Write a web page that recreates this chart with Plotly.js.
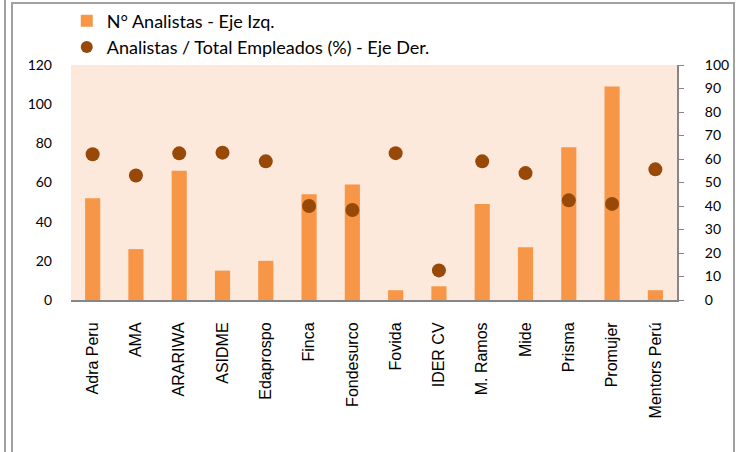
<!DOCTYPE html>
<html>
<head>
<meta charset="utf-8">
<script src="https://cdn.plot.ly/plotly-3.0.1.min.js"></script>
<style>
	body { margin: 0; background: #fff; }
	#marco { position: absolute; left: 4px; top: 0; width: 2px; height: 452px; background: #a0a0a0; }
	#caja { position: absolute; left: 11px; top: 2px; width: 724px; height: 460px; border: 2px solid #a0a0a0; box-sizing: border-box; }
	#grafico { position: absolute; left: 0; top: 0; width: 740px; height: 452px; }
</style>
</head>
<body>
<div id="marco"></div>
<div id="caja"></div>
<div id="grafico"></div>
<script>
// Entidades
const entidades = [
	"Adra Peru", "AMA", "ARARIWA", "ASIDME", "Edaprospo", "Finca", "Fondesurco",
	"Fovida", "IDER CV", "M. Ramos", "Mide", "Prisma", "Promujer", "Mentors Perú",
];
// N° de analistas (eje izquierdo)
const analistas = [52, 26, 66, 15, 20, 54, 59, 5, 7, 49, 27, 78, 109, 5];
// Analistas / total empleados en % (eje derecho)
const ratioEmpleados = [62, 53, 62.4, 62.7, 59, 40, 38.3, 62.5, 12.6, 59, 54, 42.4, 40.9, 55.6];

const ticksIzq = [0, 20, 40, 60, 80, 100, 120];
const ticksDer = [0, 10, 20, 30, 40, 50, 60, 70, 80, 90, 100];

const fuente = "Lato, 'Open Sans', sans-serif";

let trazas = [
	{
		x: entidades,
		y: analistas,
		type: "bar",
		name: "N° Analistas - Eje Izq.",
		marker: { color: "#F79646" },
		yaxis: "y",
	},
	{
		x: entidades,
		y: ratioEmpleados,
		type: "scatter",
		mode: "markers",
		name: "Analistas / Total Empleados (%) - Eje Der.",
		marker: { color: "#984807", size: 14 },
		yaxis: "y2",
	},
];

let layout = {
	width: 740,
	height: 452,
	paper_bgcolor: "rgba(0,0,0,0)",
	plot_bgcolor: "#FCE9DB",
	// sin autoexpand para que la leyenda no mueva el área del gráfico
	margin: { l: 71, r: 63, t: 65, b: 152, autoexpand: false },
	bargap: 0.65,
	showlegend: true,
	legend: {
		x: -0.007,
		y: 1.266,
		xanchor: "left",
		yanchor: "top",
		bgcolor: "rgba(0,0,0,0)",
		font: { family: fuente, size: 18, color: "#000" },
		itemsizing: "constant",
		itemwidth: 30,
		tracegroupgap: 0,
	},
	font: { family: fuente, size: 14, color: "#000" },
	xaxis: {
		type: "category",
		range: [-0.5, entidades.length - 0.5],
		automargin: false,
		tickangle: -90,
		showgrid: false,
		showline: true,
		linecolor: "#868686",
		linewidth: 2,
		ticks: "",
		ticklabelstandoff: 14,
		tickfont: { family: "'Liberation Sans', Arial, sans-serif", size: 16 },
	},
	yaxis: {
		automargin: false,
		range: [0, 120],
		tickvals: ticksIzq,
		showgrid: false,
		zeroline: false,
		showline: false,
		ticks: "",
		ticklabelstandoff: 18,
	},
	yaxis2: {
		automargin: false,
		range: [0, 100],
		tickvals: ticksDer,
		overlaying: "y",
		side: "right",
		showgrid: false,
		zeroline: false,
		showline: true,
		linecolor: "#868686",
		linewidth: 2,
		ticks: "outside",
		ticklen: 5,
		tickcolor: "#868686",
		ticklabelstandoff: 18,
	},
};

Plotly.newPlot("grafico", trazas, layout, { staticPlot: true });
</script>
</body>
</html>
